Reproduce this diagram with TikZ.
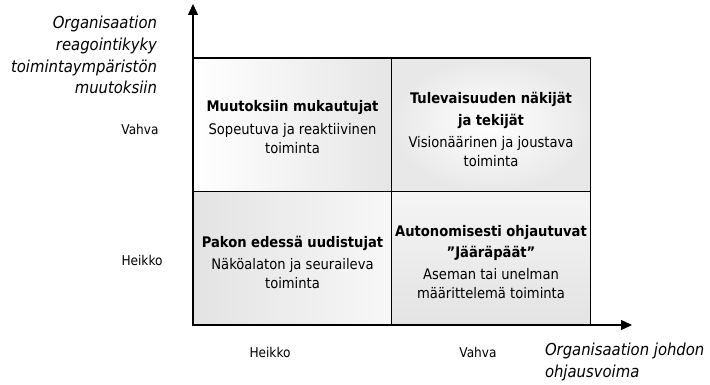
\documentclass[tikz,border=0pt]{standalone}
\usepackage{fontspec}
\setmainfont{DejaVu Sans Condensed}
\usetikzlibrary{arrows.meta}
\begin{document}
\begin{tikzpicture}[x=1pt,y=-1pt,
  cell/.style={draw=black, line width=1.4pt, minimum width=199pt, minimum height=134pt, inner sep=0pt},
  axis/.style={line width=1.4pt, -{Triangle[length=11pt,width=10pt]}},
  celltext/.style={align=center, font=\fontsize{14.6}{19}\selectfont, inner sep=0pt},
  lvl/.style={font=\fontsize{13.5}{16}\selectfont, inner sep=0pt},
  axtitle/.style={font=\fontsize{16.5}{21.5}\selectfont\itshape, inner sep=0pt, outer sep=0pt}]
\useasboundingbox (0,0) rectangle (710,385);
% cells
\node[cell, left color=white, right color=black!10] (tl) at (292.5,125) {};
\node[cell, inner color=white, outer color=black!9] (tr) at (491,125) {};
\node[cell, left color=black!11, right color=white!97!black] (bl) at (292.5,258.5) {};
\node[cell, top color=black!4, bottom color=black!11] (br) at (491,258.5) {};
% axes
\coordinate (o) at (193,325);
\coordinate (ytip) at (193,4);
\coordinate (xtip) at (632,325);
\draw[axis] (o) -- (ytip);
\draw[axis] (o) -- (xtip);
% cell texts
\node[celltext] (tlt) at ([yshift=-2pt]tl.center) {\textbf{Muutoksiin mukautujat}\\[4pt]Sopeutuva ja reaktiivinen\\toiminta};
\node[celltext] (trt) at ([yshift=-4pt]tr.center) {\textbf{Tulevaisuuden näkijät}\\[3pt]\textbf{ja tekijät}\\[3pt]Visionäärinen ja joustava\\toiminta};
\node[celltext] (blt) at ([yshift=-4pt]bl.center) {\textbf{Pakon edessä uudistujat}\\[3pt]Näköalaton ja seuraileva\\toiminta};
\node[celltext] (brt) at ([yshift=-4pt]br.center) {\textbf{Autonomisesti ohjautuvat}\\[2pt]\textbf{”Jääräpäät”}\\[3pt]Aseman tai unelman\\määrittelemä toiminta};
% level labels
\node[lvl] (yv) at (140,129) {Vahva};
\node[lvl] (yh) at (142,260) {Heikko};
\node[lvl] (xh) at (270,352) {Heikko};
\node[lvl] (xv) at (478,352) {Vahva};
% axis titles
\node[axtitle, anchor=base east] (yt1) at (157,29) {Organisaation};
\node[axtitle, anchor=base east] (yt2) at (157,51) {reagointikyky};
\node[axtitle, anchor=base east] (yt3) at (157,73) {toimintaympäristön};
\node[axtitle, anchor=base east] (yt4) at (157,94) {muutoksiin};
\node[axtitle, anchor=base west] (xt1) at (545,355) {Organisaation johdon};
\node[axtitle, anchor=base west] (xt2) at (545,377) {ohjausvoima};
\end{tikzpicture}
\end{document}
